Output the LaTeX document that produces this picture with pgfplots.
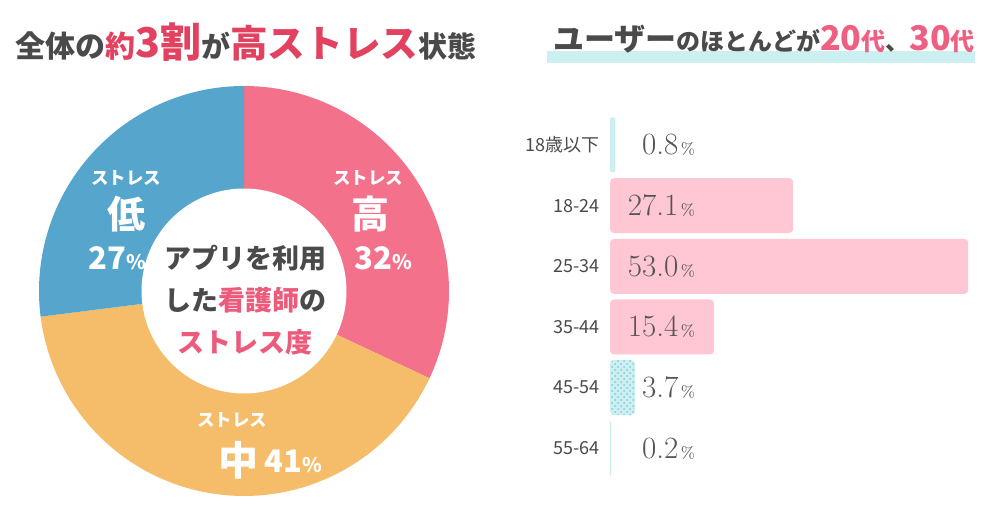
\documentclass[border=0pt]{standalone}
\usepackage{fontspec}
\usepackage{pgfplots}
\pgfplotsset{compat=1.18}
\usetikzlibrary{patterns}
\newfontfamily\jp{Noto Sans CJK JP}
\newcommand\fs[1]{\fontsize{#1}{#1}\selectfont}
\definecolor{tgray}{HTML}{4A4A4A}
\definecolor{tpink}{HTML}{E2415F}
\definecolor{dpink}{HTML}{F3718A}
\definecolor{dorange}{HTML}{F5BC69}
\definecolor{dblue}{HTML}{55A5CD}
\definecolor{cpink}{HTML}{EC5A7C}
\definecolor{bpink}{HTML}{FFC6D3}
\definecolor{bcyan}{HTML}{CCEFF1}
\definecolor{dotc}{HTML}{86C9DA}
\definecolor{rpink}{HTML}{EE5F82}
\definecolor{ngray}{HTML}{555555}
\begin{document}
\begin{tikzpicture}[x=0.5pt,y=0.5pt]
\useasboundingbox (0,0) rectangle (1000,523);
% ---- donut data
\def\vh{32}\def\vm{41}\def\vl{27}
\pgfmathsetmacro\aA{90}
\pgfmathsetmacro\aB{90-3.6*\vh}
\pgfmathsetmacro\aC{\aB-3.6*\vm}
\pgfmathsetmacro\aD{\aC-3.6*\vl}
\begin{axis}[at={(122pt,116pt)}, anchor=center, width=205pt, height=205pt,
  scale only axis, hide axis, xmin=-1, xmax=1, ymin=-1, ymax=1, clip=false]
\addplot[draw=none, fill=dpink, domain=\aB:\aA, samples=90, variable=\t] ({cos(\t)},{sin(\t)}) -- (axis cs:0,0) -- cycle;
\addplot[draw=none, fill=dorange, domain=\aC:\aB, samples=90, variable=\t] ({cos(\t)},{sin(\t)}) -- (axis cs:0,0) -- cycle;
\addplot[draw=none, fill=dblue, domain=\aD:\aC, samples=90, variable=\t] ({cos(\t)},{sin(\t)}) -- (axis cs:0,0) -- cycle;
\addplot[draw=none, fill=white, domain=0:360, samples=150, variable=\t] ({0.5*cos(\t)},{0.5*sin(\t)}) -- cycle;
\end{axis}
% ---- donut labels
\begin{scope}[every node/.style={inner sep=0pt, text=white, font=\jp\bfseries}]
\node at (368,345) {\fs{8.75pt}ストレス};
\node at (370,309) {\fs{19pt}高};
\node at (383,265) {\fs{15.5pt}32\fs{10pt}\%};
\node at (126,345) {\fs{8.75pt}ストレス};
\node at (126,309) {\fs{19pt}低};
\node at (117,265) {\fs{15.5pt}27\fs{10pt}\%};
\node at (232,103) {\fs{8.75pt}ストレス};
\node at (238,63) {\fs{20pt}中};
\node at (293,62) {\fs{15.5pt}41\fs{10pt}\%};
\end{scope}
\begin{scope}[every node/.style={inner sep=0pt, text=tgray, font=\jp\bfseries\fs{13.5pt}}]
\node at (245,265) {アプリを利用};
\node at (245,223) {した\textcolor{cpink}{看護師}の};
\node at (245,181) {\textcolor{cpink}{ストレス度}};
\end{scope}
% ---- left title
\node[anchor=base west, inner sep=0pt, text=tgray, font=\jp\bfseries] at (15,465)
 {\fs{15pt}全体の\textcolor{tpink}{約\fs{20.5pt}3割}\fs{14.5pt}が\textcolor{tpink}{\fs{18.8pt}高ストレス}\fs{14.5pt}状態};
% ---- right title
\fill[bcyan] (547,460) rectangle (975,472);
\node[anchor=base west, inner sep=0pt, text=tgray, font=\jp\bfseries] at (553,472)
 {\fs{15.5pt}ユーザー\fs{12pt}のほとんどが\textcolor{rpink}{\fs{17pt}20\fs{12pt}代}\fs{12pt}、\textcolor{rpink}{\fs{17pt}30\fs{12pt}代}};
% ---- bar chart
\begin{axis}[at={(305pt,204.2pt)}, anchor=north west, scale only axis,
  width=182.5pt, height=182pt, xmin=0, xmax=54, ymin=-0.5, ymax=5.5, y dir=reverse,
  axis x line=none, axis y line=left, axis line style={draw=none,-},
  ytick={0,1,2,3,4,5}, major tick length=0pt, tick style={draw=none},
  yticklabels={18歳以下,18-24,25-34,35-44,45-54,55-64},
  yticklabel style={font=\jp\fs{9pt}, text=tgray, inner sep=0pt, xshift=-5pt},
  clip=false]
\addplot[xbar, bar width=27.5pt, bar shift=0pt, fill=bpink, draw=none, rounded corners=2pt]
  coordinates {(27.1,1) (53.0,2) (15.4,3)};
\addplot[xbar, bar width=27.5pt, bar shift=0pt, fill=bcyan, draw=none, rounded corners=1pt]
  coordinates {(0.8,0) (0.2,5)};
\addplot[xbar, bar width=27.5pt, bar shift=0pt, fill=bcyan, draw=none, rounded corners=2pt,
  postaction={pattern=crosshatch dots, pattern color=dotc}]
  coordinates {(3.7,4)};
\addplot[draw=none, mark=none, nodes near coords={\pgfplotspointmeta{\fs{8pt}\,\%}},
  point meta=explicit symbolic,
  nodes near coords style={anchor=east, inner sep=0pt, text=ngray, font=\fs{15.5pt}}]
  coordinates {(12.65,0)[0.8] (12.65,1)[27.1] (12.65,2)[53.0] (12.65,3)[15.4] (12.65,4)[3.7] (12.65,5)[0.2]};
\end{axis}
\end{tikzpicture}
\end{document}
